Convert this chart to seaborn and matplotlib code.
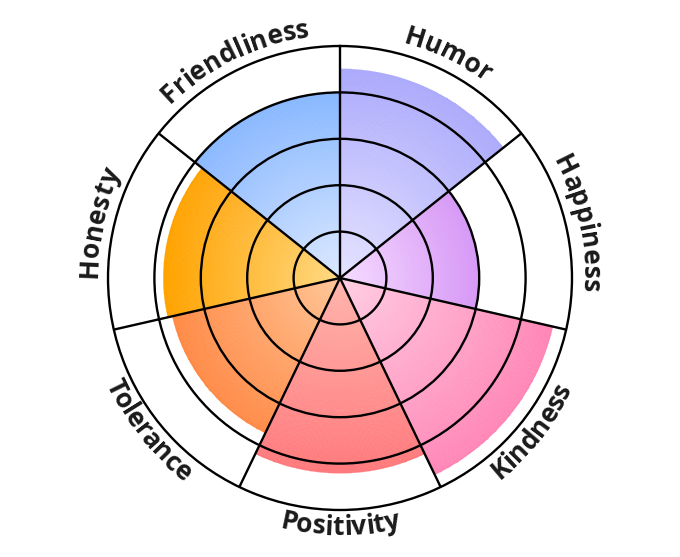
import numpy as np
import matplotlib
matplotlib.use('Agg')
import matplotlib.pyplot as plt
from matplotlib.font_manager import FontProperties
import seaborn as sns

sns.set_style('white')
plt.rcParams['font.family'] = ['Open Sans', 'DejaVu Sans']

# sectors, clockwise from 12 o'clock
categories = ['Humor', 'Happiness', 'Kindness', 'Positivity', 'Tolerance', 'Honesty', 'Friendliness']
values = [4.5, 3.0, 4.7, 4.2, 3.7, 3.8, 4.0]
light_colors = ['#e6e4ff', '#f6dcff', '#ffcfe3', '#ffb6ae', '#ffc79a', '#ffda85', '#dde9ff']
dark_colors = ['#acaafb', '#d799f6', '#ff85b6', '#ff7a7d', '#ff8a45', '#ffa300', '#88b8ff']
r_max = 5


def draw_sector(ax, t0, t1, value, light, dark):
    cmap = sns.blend_palette([light, dark], as_cmap=True)
    t = np.linspace(t0, t1, 120)
    r = np.linspace(0, value, 90)
    T, R = np.meshgrid(t, r)
    C = ((r[:-1] + r[1:]) / 2 / value)[:, None] * np.ones((1, len(t) - 1))
    ax.pcolormesh(T, R, C, cmap=cmap, vmin=0, vmax=1, shading='flat',
                  edgecolors='face', linewidth=0.3, antialiased=True, zorder=1)
    # smooth the outer rim
    ax.plot(t, np.full_like(t, value - 0.01), color=cmap(0.99), lw=1.2,
            solid_capstyle='butt', zorder=1.2)


def curved_label(ax, renderer, label, theta_mid, prop, px_per_unit):
    def width(s):
        if not s:
            return 0.0
        return renderer.get_text_width_height_descent(s, prop, ismath=False)[0]

    phi_mid = np.pi / 2 - theta_mid
    upper = np.sin(phi_mid) > 0
    r_px = 243 if upper else 257
    total = width(label)
    for i, ch in enumerate(label):
        s = (width(label[:i]) + width(label[:i + 1])) / 2
        off = (s - total / 2) / r_px
        if upper:
            phi = phi_mid - off
            rot = np.degrees(phi) - 90
        else:
            phi = phi_mid + off
            rot = np.degrees(phi) + 90
        ax.text(np.pi / 2 - phi, r_px / px_per_unit, ch, rotation=rot,
                rotation_mode='anchor', ha='center', va='baseline',
                fontproperties=prop, color='#1a1a1a', clip_on=False)


fig = plt.figure(figsize=(6.8, 5.57), dpi=100)
ax = fig.add_axes([0.1588, 0.0844, 0.6824, 0.833], projection='polar')
ax.set_theta_zero_location('N')
ax.set_theta_direction(-1)

n = len(categories)
step = 2 * np.pi / n
for i, (v, lc, dc) in enumerate(zip(values, light_colors, dark_colors)):
    draw_sector(ax, i * step, (i + 1) * step, v, lc, dc)

ax.set_ylim(0, r_max)
ax.set_xticks(np.arange(n) * step)
ax.set_yticks([1, 2, 3, 4])
ax.set_xticklabels([])
ax.set_yticklabels([])
ax.tick_params(length=0)
ax.set_axisbelow(False)
ax.grid(True, color='black', linewidth=1.7)
ax.spines['polar'].set_color('black')
ax.spines['polar'].set_linewidth(1.7)

fig.canvas.draw()
renderer = fig.canvas.get_renderer()
prop = FontProperties(family=['Open Sans', 'DejaVu Sans'], weight=700, size=19)
px_per_unit = ax.bbox.width / 2 / r_max
for i, label in enumerate(categories):
    curved_label(ax, renderer, label, (i + 0.5) * step, prop, px_per_unit)

fig.savefig('out.png', dpi=100)
